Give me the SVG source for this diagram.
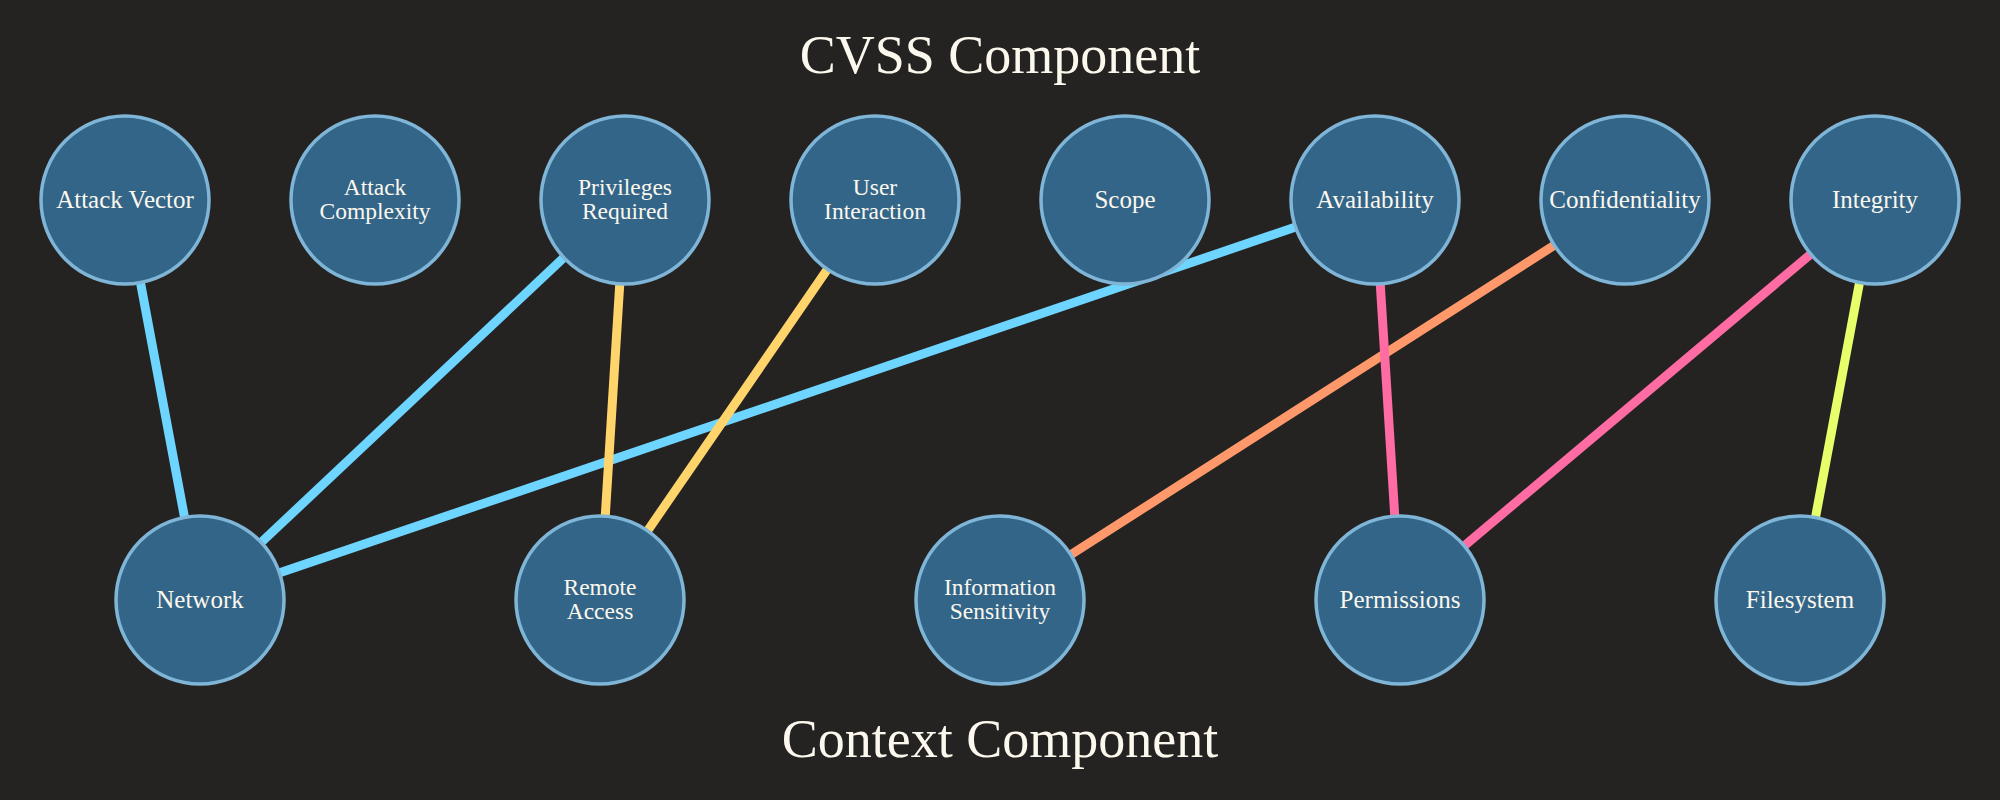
<svg xmlns="http://www.w3.org/2000/svg" width="2000" height="800" viewBox="0 0 2000 800">
<style>
.bg{fill:#252321}
.title{font-family:"Liberation Serif","Times New Roman",serif;font-size:54px;fill:#fcf8ee;text-anchor:middle}
.node circle{fill:#336589;stroke:#7fb5d6;stroke-width:3.5}
.node text{font-family:"Liberation Serif","Times New Roman",serif;font-size:25px;fill:#fcf8ee;text-anchor:middle}
.node text.two{font-size:23.5px}
.edge{stroke-width:9;fill:none;stroke-linecap:butt}
.blue{stroke:#6dd5ff}
.yellow{stroke:#ffd56b}
.orange{stroke:#ff996b}
.pink{stroke:#ff6ba3}
.lime{stroke:#e7ff6b}
</style>
<rect class="bg" x="0" y="0" width="2000" height="800"/>
<text class="title" x="1000" y="73">CVSS Component</text>
<text class="title" x="1000" y="757">Context Component</text>
<g id="connectors">
<line class="edge blue" x1="125" y1="200" x2="200" y2="600"/>
<line class="edge blue" x1="625" y1="200" x2="200" y2="600"/>
<line class="edge blue" x1="1375" y1="200" x2="200" y2="600"/>
<line class="edge yellow" x1="625" y1="200" x2="600" y2="600"/>
<line class="edge yellow" x1="875" y1="200" x2="600" y2="600"/>
<line class="edge orange" x1="1625" y1="200" x2="1000" y2="600"/>
<line class="edge pink" x1="1375" y1="200" x2="1400" y2="600"/>
<line class="edge pink" x1="1875" y1="200" x2="1400" y2="600"/>
<line class="edge lime" x1="1875" y1="200" x2="1800" y2="600"/>
</g>
<g id="attack-vector" class="node"><circle cx="125" cy="200" r="84"/><text x="125" y="208">Attack Vector</text></g>
<g id="attack-complexity" class="node"><circle cx="375" cy="200" r="84"/><text class="two" x="375" y="195">Attack</text><text class="two" x="375" y="219">Complexity</text></g>
<g id="privileges-required" class="node"><circle cx="625" cy="200" r="84"/><text class="two" x="625" y="195">Privileges</text><text class="two" x="625" y="219">Required</text></g>
<g id="user-interaction" class="node"><circle cx="875" cy="200" r="84"/><text class="two" x="875" y="195">User</text><text class="two" x="875" y="219">Interaction</text></g>
<g id="scope" class="node"><circle cx="1125" cy="200" r="84"/><text x="1125" y="208">Scope</text></g>
<g id="availability" class="node"><circle cx="1375" cy="200" r="84"/><text x="1375" y="208">Availability</text></g>
<g id="confidentiality" class="node"><circle cx="1625" cy="200" r="84"/><text x="1625" y="208">Confidentiality</text></g>
<g id="integrity" class="node"><circle cx="1875" cy="200" r="84"/><text x="1875" y="208">Integrity</text></g>
<g id="network" class="node"><circle cx="200" cy="600" r="84"/><text x="200" y="608">Network</text></g>
<g id="remote-access" class="node"><circle cx="600" cy="600" r="84"/><text class="two" x="600" y="595">Remote</text><text class="two" x="600" y="619">Access</text></g>
<g id="information-sensitivity" class="node"><circle cx="1000" cy="600" r="84"/><text class="two" x="1000" y="595">Information</text><text class="two" x="1000" y="619">Sensitivity</text></g>
<g id="permissions" class="node"><circle cx="1400" cy="600" r="84"/><text x="1400" y="608">Permissions</text></g>
<g id="filesystem" class="node"><circle cx="1800" cy="600" r="84"/><text x="1800" y="608">Filesystem</text></g>
</svg>
